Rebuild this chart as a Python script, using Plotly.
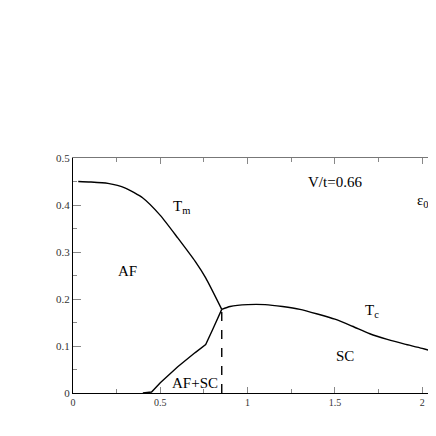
import plotly.graph_objects as go

# phase boundaries (V on x, T on y)
tm_v = [0.03, 0.1, 0.2, 0.3, 0.4, 0.5, 0.6, 0.7, 0.76, 0.852]
tm_t = [0.45, 0.449, 0.446, 0.436, 0.415, 0.378, 0.33, 0.28, 0.245, 0.178]

mix_v = [0.4, 0.45, 0.5, 0.6, 0.7, 0.76, 0.8, 0.852]
mix_t = [0.0, 0.002, 0.022, 0.056, 0.086, 0.103, 0.135, 0.178]

tc_v = [0.852, 0.9, 1.0, 1.1, 1.2, 1.3, 1.4, 1.5, 1.6, 1.7, 1.8, 1.9, 2.0, 2.13]
tc_t = [0.178, 0.184, 0.188, 0.188, 0.184, 0.178, 0.168, 0.157, 0.142, 0.126, 0.114, 0.104, 0.095, 0.081]

v_split = 0.852
x_ticks = [0, 0.5, 1, 1.5, 2]
x_ticktext = ["0", "0.5", "1", "1.5", "2"]
y_ticks = [0, 0.1, 0.2, 0.3, 0.4, 0.5]
y_ticktext = ["0", "0.1", "0.2", "0.3", "0.4", "0.5"]

serif = "Liberation Serif, Times New Roman, serif"
line = dict(color="black", width=1.4)
smooth = dict(color="black", width=1.4, shape="spline", smoothing=0.6)

fig = go.Figure()
fig.add_trace(go.Scatter(x=tm_v, y=tm_t, mode="lines", line=smooth))
fig.add_trace(go.Scatter(x=mix_v, y=mix_t, mode="lines", line=line))
fig.add_trace(go.Scatter(x=tc_v, y=tc_t, mode="lines", line=smooth))
fig.add_trace(go.Scatter(x=[v_split, v_split], y=[0, tm_t[-1]], mode="lines",
                         line=dict(color="black", width=1.4, dash="dash")))
# invisible copy so the top axis gets drawn
fig.add_trace(go.Scatter(x=tc_v, y=tc_t, mode="lines", xaxis="x2", opacity=0,
                         hoverinfo="skip"))

labels = [
    (0.62, 0.395, "T<sub>m</sub>"),
    (0.31, 0.26, "AF"),
    (0.70, 0.022, "AF+SC"),
    (1.56, 0.079, "SC"),
    (1.71, 0.175, "T<sub>c</sub>"),
    (1.50, 0.45, "V/t=0.66"),
]
for x, y, txt in labels:
    fig.add_annotation(x=x, y=y, text=txt, showarrow=False,
                       font=dict(family=serif, size=15, color="black"))
fig.add_annotation(x=1.957, y=0.408, text="ε<sub>0</sub>=-", showarrow=False,
                   xanchor="left", font=dict(family=serif, size=15, color="black"))
fig.add_annotation(x=1.25, y=-0.075, text="V", showarrow=False, yanchor="middle",
                   font=dict(family=serif, size=15, color="black"))

xrange = [0, 2.125]
fig.update_layout(
    width=436, height=436,
    margin=dict(l=65, r=0, t=150, b=51),
    plot_bgcolor="white", paper_bgcolor="white",
    showlegend=False,
    font=dict(family=serif, size=10, color="#333"),
    xaxis=dict(range=xrange, tickvals=x_ticks, ticktext=x_ticktext,
               showgrid=False, zeroline=False, showline=True, linecolor="black",
               linewidth=1.2, ticks="inside", ticklen=6, tickcolor="#888",
               minor=dict(dtick=0.25, ticks="inside", ticklen=4, tickcolor="#888")),
    xaxis2=dict(range=xrange, overlaying="x", side="top", showticklabels=False,
                tickvals=x_ticks, showgrid=False, zeroline=False, showline=True,
                linecolor="#777", linewidth=1, ticks="inside", ticklen=6,
                tickcolor="#888",
                minor=dict(dtick=0.25, ticks="inside", ticklen=4, tickcolor="#888")),
    yaxis=dict(range=[0, 0.5], tickvals=y_ticks, ticktext=y_ticktext,
               showgrid=False, zeroline=False, showline=True, linecolor="black",
               linewidth=1.2, ticks="inside", ticklen=8, tickcolor="#888",
               tickfont=dict(size=11),
               minor=dict(dtick=0.05, ticks="inside", ticklen=4, tickcolor="#888")),
)

fig.write_html("out.html")
